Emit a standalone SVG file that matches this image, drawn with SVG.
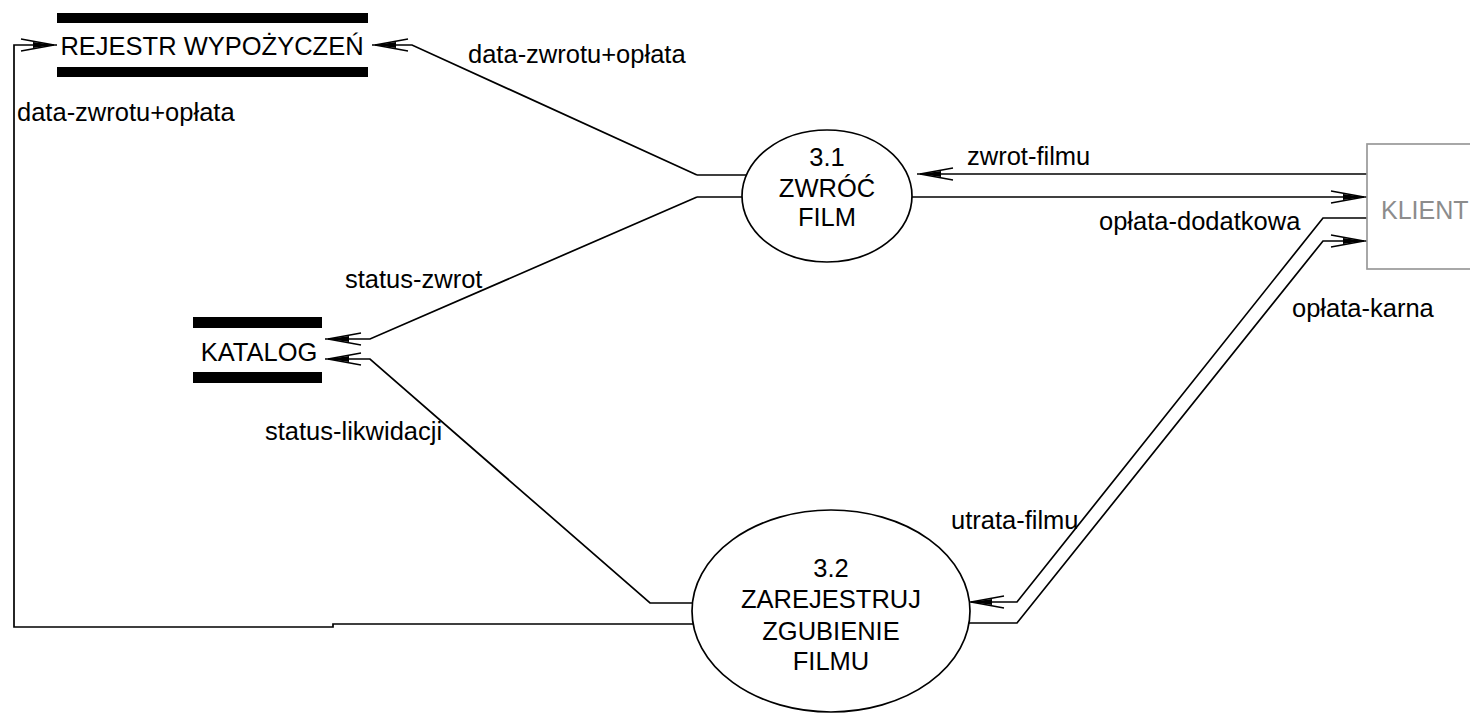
<svg xmlns="http://www.w3.org/2000/svg" width="1470" height="714" viewBox="0 0 1470 714">
<style>
text{font-family:"Liberation Sans",Arial,sans-serif;fill:#000}
.node{font-size:25.5px;text-anchor:middle}
.lbl{font-size:25.5px}
.flow{fill:none;stroke:#000;stroke-width:1.7;marker-end:url(#arr)}
.line{fill:none;stroke:#000;stroke-width:1.7}
.proc{fill:#fff;stroke:#000;stroke-width:1.7}
.bar{fill:#000}
</style>
<defs>
<marker id="arr" viewBox="-40 -8 42 16" refX="0" refY="0" markerWidth="42" markerHeight="16" markerUnits="userSpaceOnUse" orient="auto" overflow="visible">
<path d="M-3,0 L-36,-6 M-3,0 L-36,6" fill="none" stroke="#000" stroke-width="1.4"/>
<path d="M-3,0 L-24,-3 L-24,3 Z" fill="#000"/>
</marker>
</defs>
<rect width="1470" height="714" fill="#fff"/>
<g id="connectors">
<path class="flow" d="M697,175 L412,45 L372,45"/>
<path class="flow" d="M693,624 L333,624 L333,627 L14,627 L14,45 L57,45"/>
<path class="flow" d="M697,197 L370,339 L325,339"/>
<path class="flow" d="M693,603 L650,603 L370,359 L325,359"/>
<path class="flow" d="M1367,174 L917,174"/>
<path class="flow" d="M910,197 L1367,197"/>
<path class="flow" d="M1367,218 L1323,218 L1017,602 L968,602"/>
<path class="flow" d="M968,623 L1017,623 L1323,241 L1367,241"/>
<path class="line" d="M697,175 L746,175 M697,197 L746,197"/>
<text class="lbl" x="468" y="63">data-zwrotu+opłata</text>
<text class="lbl" x="17" y="121">data-zwrotu+opłata</text>
<text class="lbl" x="967" y="165">zwrot-filmu</text>
<text class="lbl" x="1099" y="230">opłata-dodatkowa</text>
<text class="lbl" x="1292" y="317">opłata-karna</text>
<text class="lbl" x="345" y="288">status-zwrot</text>
<text class="lbl" x="265" y="440">status-likwidacji</text>
<text class="lbl" x="951" y="529">utrata-filmu</text>
</g>
<g id="rejestr">
<rect class="bar" x="57" y="13" width="311" height="10"/>
<rect class="bar" x="57" y="67" width="311" height="10"/>
<text class="node" x="212" y="55">REJESTR WYPOŻYCZEŃ</text>
</g>
<g id="katalog">
<rect class="bar" x="193" y="317" width="129" height="11"/>
<rect class="bar" x="193" y="372" width="129" height="11"/>
<text class="node" x="259" y="361">KATALOG</text>
</g>
<g id="p31">
<ellipse class="proc" cx="827" cy="196" rx="85" ry="66"/>
<text class="node" x="827" y="166">3.1</text>
<text class="node" x="827" y="197">ZWRÓĆ</text>
<text class="node" x="827" y="226">FILM</text>
</g>
<g id="p32">
<ellipse class="proc" cx="831" cy="611" rx="139" ry="101"/>
<text class="node" x="831" y="577">3.2</text>
<text class="node" x="831" y="608">ZAREJESTRUJ</text>
<text class="node" x="831" y="640">ZGUBIENIE</text>
<text class="node" x="831" y="670">FILMU</text>
</g>
<g id="klient">
<rect x="1367" y="144" width="120" height="125" fill="#fff" stroke="#999" stroke-width="1.7"/>
<text x="1381" y="219" style="font-size:25px;fill:#8c8c8c">KLIENT</text>
</g>
</svg>
